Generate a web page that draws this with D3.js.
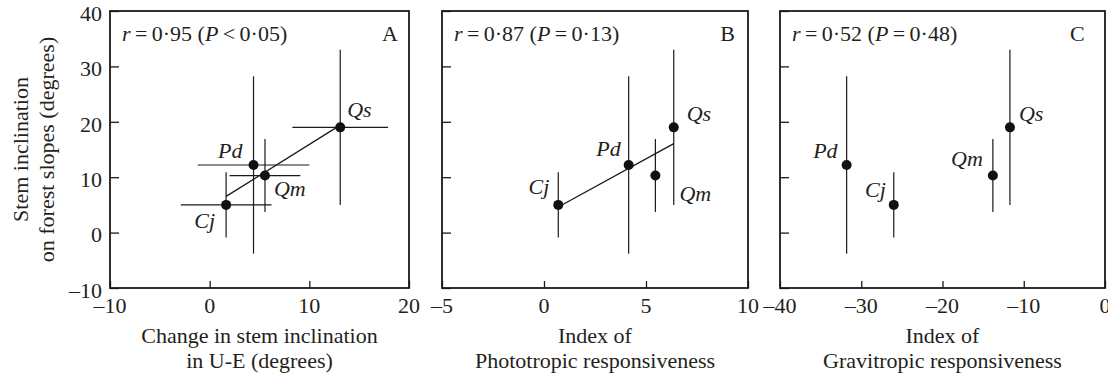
<!DOCTYPE html>
<html>
<head>
<meta charset="utf-8">
<script src="https://cdn.jsdelivr.net/npm/d3@7"></script>
<style>
  body { margin: 0; background: #fff; }
  svg text { font-family: "Liberation Serif", "Times New Roman", serif; fill: #231f20; }
</style>
</head>
<body>
<svg id="chart" width="1108" height="378"></svg>
<script>
// species means and SDs
const species = ['Cj', 'Pd', 'Qm', 'Qs'];
const slopeInclination = [5.0, 12.2, 10.3, 19.0];
const slopeSD = [5.9, 16.0, 6.6, 14.0];
const ueChange = [1.65, 4.4, 5.55, 13.1];
const ueSD = [4.55, 5.6, 3.55, 4.8];
const phototropic = [0.7, 4.15, 5.46, 6.36];
const gravitropic = [-26.0, -31.8, -13.8, -11.7];

// ticks
const yTicks = [-10, 0, 10, 20, 30, 40];
const xTicksA = [-10, 0, 10, 20];
const xTicksB = [-5, 0, 5, 10];
const xTicksC = [-40, -30, -20, -10, 0];

// stats and titles
const panelLetters = ['A', 'B', 'C'];
const statR = ['0·95', '0·87', '0·52'];
const statP = ['<\u20090·05', '=\u20090·13', '=\u20090·48'];
const xTitles = [
  ['Change in stem inclination', 'in U-E (degrees)'],
  ['Index of', 'Phototropic responsiveness'],
  ['Index of', 'Gravitropic responsiveness']
];
const yTitle = ['Stem inclination', 'on forest slopes (degrees)'];

const svg = d3.select('#chart');
const plotTop = 11, plotBottom = 288;
const ink = '#1a1a1a';

const y = d3.scaleLinear().domain([-10, 40]).range([plotBottom, plotTop]);

// label placement per panel (dx, dy, anchor) in species order
const labelPos = [
  [[-11, 23, 'end'], [-11, -7, 'end'], [9, 20, 'start'], [7, -10, 'start']],
  [[-9, -11, 'end'], [-8, -9, 'end'], [24, 25, 'start'], [13, -6, 'start']],
  [[-8, -8, 'end'], [-9, -7, 'end'], [-10, -10, 'end'], [9, -6, 'start']]
];

const panels = [
  { xs: ueChange, xErr: ueSD, domain: [-10, 20], ticks: xTicksA, left: 110, right: 409, fit: true, letterX: 18.1 },
  { xs: phototropic, xErr: null, domain: [-5, 10], ticks: xTicksB, left: 442, right: 748, fit: true, letterX: 9.0 },
  { xs: gravitropic, xErr: null, domain: [-40, 0], ticks: xTicksC, left: 780, right: 1105, fit: false, letterX: -3.4 }
];

const fmt = v => (v < 0 ? '\u2013' + Math.abs(v) : '' + v);

function fitLine(xs, ys) {
  const mx = d3.mean(xs), my = d3.mean(ys);
  const sxy = d3.sum(xs, (v, i) => (v - mx) * (ys[i] - my));
  const sxx = d3.sum(xs, v => (v - mx) * (v - mx));
  const b = sxy / sxx;
  return v => my + b * (v - mx);
}

panels.forEach((p, pi) => {
  const x = d3.scaleLinear().domain(p.domain).range([p.left, p.right]);
  const g = svg.append('g');

  // inward ticks
  const xAxis = d3.axisTop(x).tickValues(p.ticks).tickSize(7).tickFormat('');
  g.append('g').attr('transform', `translate(0,${plotBottom})`).call(xAxis)
    .call(a => a.select('.domain').remove())
    .call(a => a.selectAll('line').attr('stroke', ink).attr('stroke-width', 1.3));
  const yAxis = d3.axisRight(y).tickValues(yTicks).tickSize(9).tickFormat('');
  g.append('g').attr('transform', `translate(${p.left},0)`).call(yAxis)
    .call(a => a.select('.domain').remove())
    .call(a => a.selectAll('line').attr('stroke', ink).attr('stroke-width', 1.3));

  // x tick labels
  g.selectAll('.xl').data(p.ticks).enter().append('text')
    .attr('x', d => x(d)).attr('y', 313)
    .attr('text-anchor', 'middle').attr('font-size', 22)
    .text(fmt);

  if (pi === 0) {
    g.selectAll('.yl').data(yTicks).enter().append('text')
      .attr('x', p.left - 8).attr('y', d => y(d) + 2)
      .attr('dy', '0.35em')
      .attr('text-anchor', 'end').attr('font-size', 22)
      .text(fmt);
  }

  // frame
  g.append('rect')
    .attr('x', p.left).attr('y', plotTop)
    .attr('width', p.right - p.left).attr('height', plotBottom - plotTop)
    .attr('fill', 'none').attr('stroke', ink).attr('stroke-width', 1.8);

  // error bars
  species.forEach((s, i) => {
    const cx = x(p.xs[i]);
    g.append('line')
      .attr('x1', cx).attr('x2', cx)
      .attr('y1', y(slopeInclination[i] - slopeSD[i])).attr('y2', y(slopeInclination[i] + slopeSD[i]))
      .attr('stroke', ink).attr('stroke-width', 1.2);
    if (p.xErr) {
      g.append('line')
        .attr('x1', x(p.xs[i] - p.xErr[i])).attr('x2', x(p.xs[i] + p.xErr[i]))
        .attr('y1', y(slopeInclination[i])).attr('y2', y(slopeInclination[i]))
        .attr('stroke', ink).attr('stroke-width', 1.2);
    }
  });

  // regression line
  if (p.fit) {
    const f = fitLine(p.xs, slopeInclination);
    const [x0, x1] = d3.extent(p.xs);
    g.append('line')
      .attr('x1', x(x0)).attr('y1', y(f(x0)))
      .attr('x2', x(x1)).attr('y2', y(f(x1)))
      .attr('stroke', ink).attr('stroke-width', 1.3);
  }

  // points
  g.selectAll('.pt').data(species).enter().append('circle')
    .attr('cx', (d, i) => x(p.xs[i]))
    .attr('cy', (d, i) => y(slopeInclination[i]))
    .attr('r', 5).attr('fill', '#111');

  // species labels
  g.selectAll('.sp').data(species).enter().append('text')
    .attr('x', (d, i) => x(p.xs[i]) + labelPos[pi][i][0])
    .attr('y', (d, i) => y(slopeInclination[i]) + labelPos[pi][i][1])
    .attr('text-anchor', (d, i) => labelPos[pi][i][2])
    .attr('font-size', 22).attr('font-style', 'italic')
    .text(d => d);

  // stat annotation
  const st = g.append('text').attr('x', p.left + 12).attr('y', 41).attr('font-size', 22);
  st.append('tspan').attr('font-style', 'italic').text('r');
  st.append('tspan').text('\u2009=\u2009' + statR[pi] + ' (');
  st.append('tspan').attr('font-style', 'italic').text('P');
  st.append('tspan').text('\u2009' + statP[pi] + ')');

  // panel letter
  g.append('text')
    .attr('x', x(p.letterX)).attr('y', 41)
    .attr('text-anchor', 'middle').attr('font-size', 22)
    .text(panelLetters[pi]);

  // x title
  const cxT = (p.left + p.right) / 2;
  xTitles[pi].forEach((line, li) => {
    g.append('text')
      .attr('x', cxT).attr('y', 343 + li * 25)
      .attr('text-anchor', 'middle').attr('font-size', 22)
      .text(line);
  });
});

// y title
const cy = (plotTop + plotBottom) / 2;
yTitle.forEach((line, li) => {
  svg.append('text')
    .attr('transform', `translate(${28 + li * 26},${cy}) rotate(-90)`)
    .attr('text-anchor', 'middle').attr('font-size', 22)
    .text(line);
});
</script>
</body>
</html>
